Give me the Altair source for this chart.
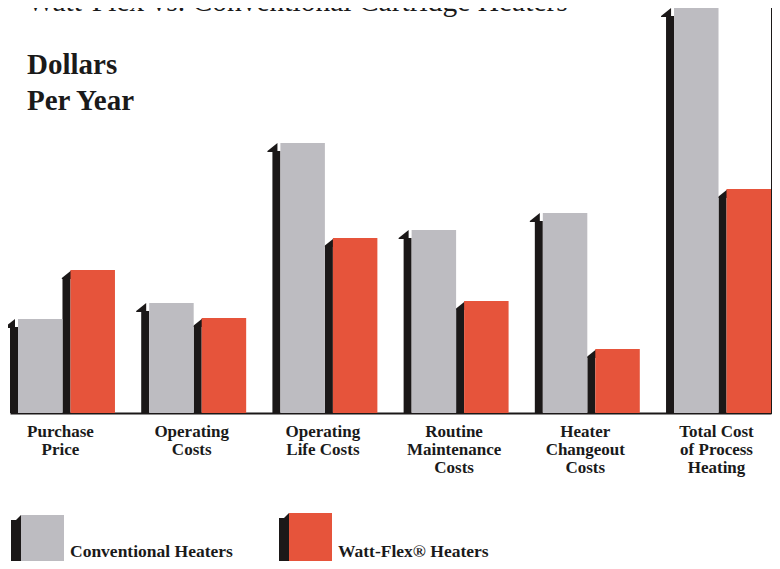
import altair as alt
import pandas as pd

# ---------------- data ----------------
categories = [
    "Purchase|Price",
    "Operating|Costs",
    "Operating|Life Costs",
    "Routine|Maintenance|Costs",
    "Heater|Changeout|Costs",
    "Total Cost|of Process|Heating",
]
series = ["Conventional Heaters", "Watt-Flex® Heaters"]
conventional = [94, 110, 270, 183, 200, 405]
wattflex = [143, 95, 175, 112, 64, 224]

title_text = "Watt-Flex vs. Conventional Cartridge Heaters"
ylabel_lines = ["Dollars", "Per Year"]

# ---------------- style ----------------
GRAY = "#bdbcc1"
RED = "#e6543b"
DARK = "#1b1818"
FONT = "Liberation Serif"
W, H = 761, 405
SIDE = 10.0              # width of the dark side face (px)
STEP = (W / (6 - 0.2)) / 2   # sub-band step per series
FACEW = STEP - SIDE

rows = []
for c, a, b in zip(categories, conventional, wattflex):
    rows.append({"category": c, "series": series[0], "value": a})
    rows.append({"category": c, "series": series[1], "value": b})
df = pd.DataFrame(rows)

x = alt.X(
    "category:N",
    sort=categories,
    scale=alt.Scale(paddingInner=0.2, paddingOuter=0, round=False),
    axis=alt.Axis(
        title=None,
        labelExpr="split(datum.label, '|')",
        labelFont=FONT,
        labelFontWeight="bold",
        labelFontSize=17,
        labelLineHeight=18,
        labelColor="#1a1a1a",
        labelAngle=0,
        labelPadding=10,
        labelOffset=-2,
        ticks=False,
        tickSize=0,
        domainColor=DARK,
        domainWidth=2,
    ),
)
xo_face = alt.XOffset("series:N", sort=series,
                      scale=alt.Scale(paddingInner=SIDE / STEP, paddingOuter=(SIDE / 2) / STEP,
                                      align=1, round=False))
xo_side = alt.XOffset("series:N", sort=series,
                      scale=alt.Scale(paddingInner=FACEW / STEP, paddingOuter=(FACEW / 2) / STEP,
                                      align=0, round=False))
yscale = alt.Scale(domain=[0, 405], nice=False, zero=True)
y = alt.Y(
    "value:Q",
    scale=yscale,
    axis=alt.Axis(title=None, labels=False, ticks=False, grid=False,
                  domainColor=DARK, domainWidth=2, offset=0),
)
color = alt.Color("series:N", sort=series,
                  scale=alt.Scale(domain=series, range=[GRAY, RED]), legend=None)

base = alt.Chart(df)
SLANT = "M-1,0.8 L1,-0.8 L1,1 L-1,1 Z"

side = base.transform_calculate(side_top="datum.value - 8").mark_bar(color=DARK).encode(
    x=x, xOffset=xo_side, y=alt.Y("side_top:Q", scale=yscale, axis=None)
)
cap = base.transform_calculate(cap_mid="datum.value - 4").mark_point(
    shape=SLANT, size=100, filled=True, color=DARK, opacity=1, strokeWidth=0
).encode(x=x, xOffset=xo_side, y=alt.Y("cap_mid:Q", scale=yscale, axis=None))
face = base.mark_bar().encode(x=x, xOffset=xo_face, y=y, color=color)

right_frame = alt.Chart(pd.DataFrame({"v": [0]})).mark_rule(color=DARK, strokeWidth=2).encode(
    x=alt.value(W + 1), y=alt.value(0), y2=alt.value(H + 1)
)

title = alt.Chart(pd.DataFrame({"t": [title_text]})).mark_text(
    font=FONT, fontSize=29.5, align="left", baseline="alphabetic", color="#1a1a1a"
).encode(text="t:N", x=alt.value(17), y=alt.value(3))

ylab1 = alt.Chart(pd.DataFrame({"t": [ylabel_lines[0]]})).mark_text(
    font=FONT, fontSize=29, fontWeight="bold", align="left", baseline="alphabetic", color="#1a1a1a"
).encode(text="t:N", x=alt.value(17), y=alt.value(66))
ylab2 = alt.Chart(pd.DataFrame({"t": [ylabel_lines[1]]})).mark_text(
    font=FONT, fontSize=29, fontWeight="bold", align="left", baseline="alphabetic", color="#1a1a1a"
).encode(text="t:N", x=alt.value(17), y=alt.value(102))

# ---------------- legend ----------------
legend_layers = []
legend_x = [1, 269]
legend_top = [507, 505]
for name, col, lx, lt in zip(series, [GRAY, RED], legend_x, legend_top):
    d = pd.DataFrame({"s": [name]})
    legend_layers.append(
        alt.Chart(d).mark_rect(color=DARK).encode(
            x=alt.value(lx), x2=alt.value(lx + 10), y=alt.value(lt + 5), y2=alt.value(600)))
    legend_layers.append(
        alt.Chart(d).mark_point(shape="M-1,1 L1,-1 L1,1.2 L-1,1.2 Z", size=100, filled=True,
                                color=DARK, opacity=1, strokeWidth=0).encode(
            x=alt.value(lx + 5), y=alt.value(lt + 5)))
    legend_layers.append(
        alt.Chart(d).mark_rect(color=col).encode(
            x=alt.value(lx + 10), x2=alt.value(lx + 53), y=alt.value(lt), y2=alt.value(600)))
    legend_layers.append(
        alt.Chart(d).mark_text(font=FONT, fontSize=17.5, fontWeight="bold", align="left",
                               baseline="alphabetic", color="#1a1a1a").encode(
            text="s:N", x=alt.value(lx + 59), y=alt.value(549)))

chart = alt.layer(
    side, cap, face, right_frame, title, ylab1, ylab2, *legend_layers
).resolve_scale(
    xOffset="independent"
).properties(
    width=W,
    height=H,
    autosize=alt.AutoSizeParams(type="none"),
    padding={"left": 2, "top": 0, "right": 1, "bottom": 148},
).configure_view(stroke=None)

chart.save("out.html", embed_options={"renderer": "svg", "actions": False})
